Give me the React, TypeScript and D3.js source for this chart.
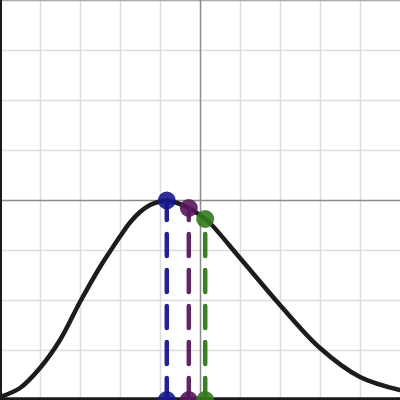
import React from "react";
import * as d3 from "d3";

const W = 400;
const H = 400;

// Curve sample points (data units)
const curveX = [-5, -4.5, -4, -3.5, -3, -2.5, -2.25, -2, -1.75, -1.5, -1.25, -1, -0.83, -0.28, 0.13, 0.25, 1, 2, 3, 4, 5];
const curveY = [-3.94, -3.76, -3.36, -2.8, -2.04, -1.34, -1.03, -0.73, -0.45, -0.24, -0.1, -0.03, -0.01, -0.16, -0.38, -0.46, -1.16, -2.1, -2.96, -3.54, -3.8];

// Highlighted points
const pointX = [-0.83, -0.28, 0.13];
const pointY = [-0.01, -0.16, -0.38];
const pointColors = ["#17178c", "#571a5c", "#33791c"];

const gridX = [-4, -3, -2, -1, 1, 2, 3, 4];
const gridY = [-3, -2, -1, 1, 2, 3];

export default function App() {
  const x = d3.scaleLinear().domain([-5, 5]).range([0, W]);
  const y = d3.scaleLinear().domain([-4, 4]).range([H, 0]);
  const pts: [number, number][] = curveX.map((v, i) => [v, curveY[i]]);
  const line = d3
    .line<[number, number]>()
    .x((d) => x(d[0]))
    .y((d) => y(d[1]))
    .curve(d3.curveCatmullRom.alpha(0.5));

  return (
    <div style={{ position: "fixed", left: 0, top: 0 }}>
      <svg width={W} height={H} style={{ display: "block", background: "#fff" }}>
        {gridX.map((g) => (
          <line key={"gx" + g} x1={x(g) + 0.5} x2={x(g) + 0.5} y1={0} y2={H} stroke="#dddddd" strokeWidth={1.5} />
        ))}
        {gridY.map((g) => (
          <line key={"gy" + g} x1={0} x2={W} y1={y(g) + 0.5} y2={y(g) + 0.5} stroke="#dddddd" strokeWidth={1.5} />
        ))}
        <line x1={0} x2={W} y1={0.6} y2={0.6} stroke="#aaaaaa" strokeWidth={1.3} />
        <line x1={x(0) + 0.5} x2={x(0) + 0.5} y1={0} y2={H} stroke="#8a8a8a" strokeWidth={1.5} />
        <line x1={0} x2={W} y1={y(0) + 0.5} y2={y(0) + 0.5} stroke="#8a8a8a" strokeWidth={1.5} />
        <line x1={1} x2={1} y1={0} y2={H} stroke="#1a1a1a" strokeWidth={2} />
        <line x1={0} x2={W} y1={398.7} y2={398.7} stroke="#1a1a1a" strokeWidth={2.8} />
        <path d={line(pts) || ""} fill="none" stroke="#1c1c1c" strokeWidth={4.5} strokeLinecap="round" strokeLinejoin="round" />
        {pointX.map((px, i) => (
          <line
            key={"d" + i}
            x1={x(px)}
            x2={x(px)}
            y1={y(-4)}
            y2={y(pointY[i])}
            stroke={pointColors[i]}
            strokeWidth={4.5}
            strokeDasharray="22 14"
            strokeLinecap="round"
            opacity={0.95}
          />
        ))}
        {pointX.map((px, i) => (
          <g key={"p" + i}>
            <circle cx={x(px)} cy={y(pointY[i])} r={9} fill={pointColors[i]} opacity={0.9} />
            <circle cx={x(px)} cy={y(-4)} r={9} fill={pointColors[i]} opacity={0.9} />
          </g>
        ))}
      </svg>
    </div>
  );
}
